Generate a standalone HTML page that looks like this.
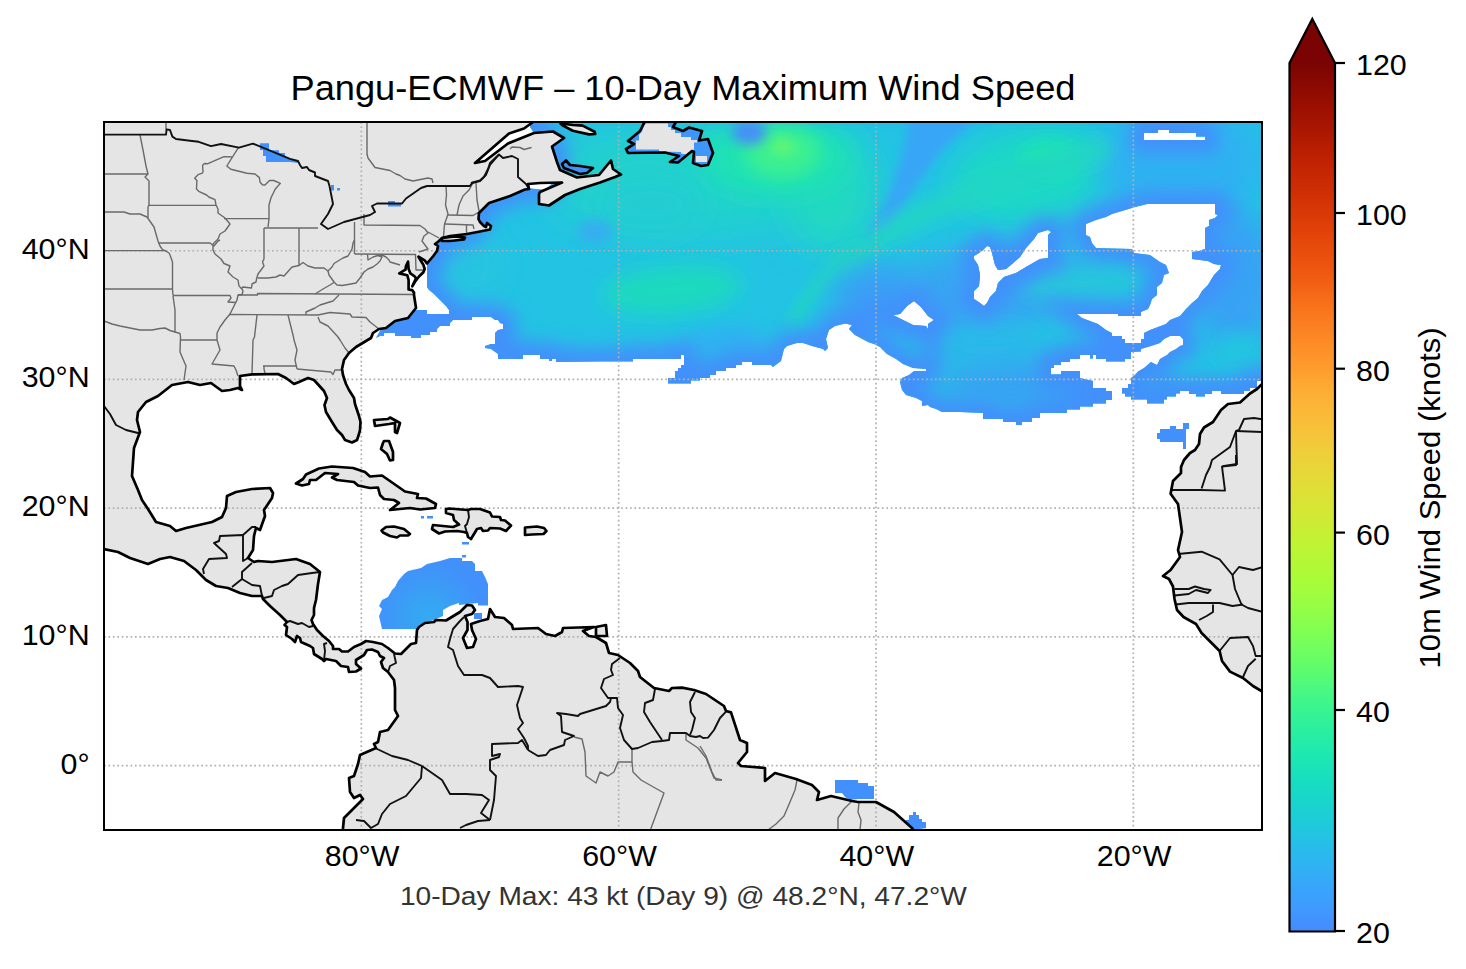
<!DOCTYPE html>
<html><head><meta charset="utf-8"><title>Pangu-ECMWF 10-Day Maximum Wind Speed</title>
<style>html,body{margin:0;padding:0;background:#fff;}svg{display:block;}
text{font-family:"Liberation Sans",sans-serif;}</style></head><body>
<svg width="1466" height="969" viewBox="0 0 1466 969">
<defs>
<clipPath id="frame"><rect x="104" y="122" width="1158" height="708"/></clipPath>

<clipPath id="windclip"><path clip-rule="evenodd" d="M530,127 L530,100 L1290,100 L1290,381 L1257,381 L1257,388 L1250,388 L1250,391 L1244,391 L1244,394 L1221,394 L1221,391 L1212,391 L1212,394 L1205,394 L1205,396.5 L1196,396.5 L1196,394 L1189,394 L1189,391 L1180,391 L1180,393.5 L1176,393.5 L1176,396.5 L1167,396.5 L1167,399.5 L1164,399.5 L1164,403.5 L1147,403.5 L1147,399.5 L1131,399.5 L1131,396.5 L1125,396.5 L1125,393.5 L1122,393.5 L1122,388 L1128,388 L1128,384 L1131,384 L1131,378 L1135,375 L1138,371.5 L1144,368 L1151,362 L1157,365 L1160,359 L1167,355 L1170,352 L1176,349 L1180,346 L1183,345 L1183,339 L1180,336 L1170,336 L1164,339 L1160,343 L1151,346 L1141,349 L1141,351.5 L1131,352 L1131,359 L1125,359 L1125,361.5 L1106,361.5 L1106,359 L1096,359 L1096,355 L1093,355 L1093,358.5 L1090,358.5 L1090,355 L1080,355 L1080,359 L1070,359 L1070,362 L1061,362 L1061,365 L1054,365 L1054,368 L1051,368 L1051,374.5 L1061,374.5 L1061,371 L1080,371 L1080,378 L1093,381 L1093,388 L1106,388 L1106,391 L1112,391 L1112,400 L1106,400 L1106,403.5 L1093,403.5 L1093,406.5 L1080,406.5 L1080,409.5 L1067,409.5 L1067,413 L1040,413 L1040,418 L1032,418 L1032,422 L1022,422 L1022,425 L1016,425 L1016,422 L1003,422 L1003,419 L983,419 L983,413 L960,412 L942,412 L936,409 L930,407 L928,405 L922,406 L922,401 L916,398 L906,395 L902,390 L900,382 L902,378 L909,375 L914,371 L926,371 L926,369 L913,368 L903,364 L896,359 L887,354 L880,347 L874,344 L868,342 L855,335 L849,329 L852,325 L845,323.6 L835,326 L829,330 L826,339 L828,348 L825,351 L823,349 L812,346 L803,343 L797,343 L787,346 L784,349 L781,361 L777,364 L773,367 L771,365 L752,365 L752,362 L742,362 L742,365 L736,365 L736,368 L726,368 L726,371 L716,371 L716,375 L710,375 L710,378 L700,378 L700,380.5 L691,380.5 L691,383.5 L668,383.5 L668,378 L675,378 L675,371 L678,371 L678,368 L681,368 L681,365 L684,365 L684,355 L681,355 L681,359 L633,359 L633,361.5 L600,361.5 L556,362 L556,359 L552,359 L552,361 L549,361 L549,359 L540,359 L540,355 L523,355 L523,359 L498,359 L498,354 L491,349 L485,348 L485,346 L491,344 L495,344 L495,333 L498,330 L503,329 L503,324 L500,323 L498,320 L495,320 L491,317 L472,317 L472,320 L453,320 L450,323 L450,326 L440,326 L437,329 L437,332 L430,332 L430,335 L421,335 L421,338 L411,338 L411,336 L395,336 L395,333 L384,333 L384,336 L380,336 L376,338 L385,322 L405,316 L412,312 L415,310 L427,310 L427,314 L449,314 L449,310 L446,306 L440,300 L434,294 L429,290 L427,287 L427,256 L436,255 L438,250 L432,246 L436,240 L470,232 L478,222 L478,212 L488,202 L526,188 L545,190 L556,180 L556,160 L552,146 L548,140 L534,133Z M1144,133 L1158,133 L1158,130 L1169,130 L1169,133 L1196,133 L1196,136.6 L1205,136.6 L1205,140 L1144,140Z M974,256 L979,253 L983,250 L987,246 L990,247 L992,253 L995,265 L998,270 L1006,269 L1012,264 L1020,257 L1026,248 L1034,239 L1038,233 L1048,230 L1051,232 L1048,235 L1048,258 L1040,259 L1026,267 L1016,273 L1004,277 L998,283 L996,291 L990,297 L987,303 L984,306 L980,303 L974,299 L974,291 L979,286 L980,275 L978,265 L974,259Z M1086,224 L1096,220 L1106,217 L1112,214 L1122,211 L1135,207 L1147,204 L1215,204 L1215,214 L1218,215 L1215,218 L1209,220 L1209,226 L1205,228 L1205,249 L1199,251 L1192,252 L1192,259 L1208,261 L1214,264 L1221,265 L1220,269 L1214,275 L1208,285 L1202,291 L1198,298 L1192,303 L1186,309 L1180,316 L1170,320 L1166,324 L1150,330 L1144,333 L1144,339 L1141,339 L1141,343 L1125,343 L1125,339 L1122,339 L1122,336 L1112,336 L1112,333 L1106,330 L1098,324 L1082,318 L1077,314 L1118,314 L1118,316 L1141,316 L1141,312 L1148,309 L1150,305 L1152,299 L1157,295 L1157,287 L1162,283 L1164,275 L1169,273 L1166,265 L1160,262 L1150,255 L1134,253 L1132,249 L1096,248 L1092,243 L1090,237 L1086,235Z M893,315 L900,314 L907,306 L914,301 L921,307 L928,316 L934,320 L928,324 L928,329 L926,326 L913,325 L905,321 L899,318Z"/></clipPath>
<filter id="b3" x="-50%" y="-50%" width="200%" height="200%"><feGaussianBlur stdDeviation="3"/></filter>
<filter id="b4" x="-50%" y="-50%" width="200%" height="200%"><feGaussianBlur stdDeviation="4"/></filter>
<filter id="b5" x="-50%" y="-50%" width="200%" height="200%"><feGaussianBlur stdDeviation="5"/></filter>
<filter id="b6" x="-50%" y="-50%" width="200%" height="200%"><feGaussianBlur stdDeviation="6"/></filter>
<filter id="b7" x="-50%" y="-50%" width="200%" height="200%"><feGaussianBlur stdDeviation="7"/></filter>
<filter id="b8" x="-50%" y="-50%" width="200%" height="200%"><feGaussianBlur stdDeviation="8"/></filter>
<filter id="b9" x="-50%" y="-50%" width="200%" height="200%"><feGaussianBlur stdDeviation="9"/></filter>
<filter id="b10" x="-50%" y="-50%" width="200%" height="200%"><feGaussianBlur stdDeviation="10"/></filter>
<filter id="b11" x="-50%" y="-50%" width="200%" height="200%"><feGaussianBlur stdDeviation="11"/></filter>
<filter id="b12" x="-50%" y="-50%" width="200%" height="200%"><feGaussianBlur stdDeviation="12"/></filter>
<filter id="b14" x="-50%" y="-50%" width="200%" height="200%"><feGaussianBlur stdDeviation="14"/></filter>
<filter id="b16" x="-50%" y="-50%" width="200%" height="200%"><feGaussianBlur stdDeviation="16"/></filter>
<filter id="b18" x="-50%" y="-50%" width="200%" height="200%"><feGaussianBlur stdDeviation="18"/></filter>
<filter id="b20" x="-50%" y="-50%" width="200%" height="200%"><feGaussianBlur stdDeviation="20"/></filter>
<filter id="blur8" x="-20%" y="-20%" width="140%" height="140%"><feGaussianBlur stdDeviation="9"/></filter>
<filter id="blur14" x="-30%" y="-30%" width="160%" height="160%"><feGaussianBlur stdDeviation="14"/></filter>
<filter id="blur20" x="-30%" y="-30%" width="160%" height="160%"><feGaussianBlur stdDeviation="20"/></filter>
<linearGradient id="cbgrad" x1="0" y1="1" x2="0" y2="0">
<stop offset="0.000" stop-color="#458afc"/>
<stop offset="0.025" stop-color="#4099ff"/>
<stop offset="0.050" stop-color="#38a5fb"/>
<stop offset="0.075" stop-color="#2fb2f4"/>
<stop offset="0.100" stop-color="#27bee9"/>
<stop offset="0.125" stop-color="#1ecbda"/>
<stop offset="0.150" stop-color="#19d5cd"/>
<stop offset="0.175" stop-color="#18dec0"/>
<stop offset="0.200" stop-color="#1de7b2"/>
<stop offset="0.225" stop-color="#27eea4"/>
<stop offset="0.250" stop-color="#35f394"/>
<stop offset="0.275" stop-color="#46f884"/>
<stop offset="0.300" stop-color="#5dfc6f"/>
<stop offset="0.325" stop-color="#71fe5f"/>
<stop offset="0.350" stop-color="#84ff51"/>
<stop offset="0.375" stop-color="#96fe44"/>
<stop offset="0.400" stop-color="#a7fc3a"/>
<stop offset="0.425" stop-color="#b4f836"/>
<stop offset="0.450" stop-color="#c1f334"/>
<stop offset="0.475" stop-color="#d0ea34"/>
<stop offset="0.500" stop-color="#dbe236"/>
<stop offset="0.525" stop-color="#e5d938"/>
<stop offset="0.550" stop-color="#eecf3a"/>
<stop offset="0.575" stop-color="#f6c33a"/>
<stop offset="0.600" stop-color="#fbb838"/>
<stop offset="0.625" stop-color="#fdac34"/>
<stop offset="0.650" stop-color="#fe9b2d"/>
<stop offset="0.675" stop-color="#fd8d27"/>
<stop offset="0.700" stop-color="#fb7e21"/>
<stop offset="0.725" stop-color="#f76f1a"/>
<stop offset="0.750" stop-color="#f15d13"/>
<stop offset="0.775" stop-color="#eb500e"/>
<stop offset="0.800" stop-color="#e4450a"/>
<stop offset="0.825" stop-color="#da3907"/>
<stop offset="0.850" stop-color="#d02f05"/>
<stop offset="0.875" stop-color="#c52603"/>
<stop offset="0.900" stop-color="#b91e02"/>
<stop offset="0.925" stop-color="#a91601"/>
<stop offset="0.950" stop-color="#9b0f01"/>
<stop offset="0.975" stop-color="#8b0902"/>
<stop offset="1.000" stop-color="#7a0403"/>
</linearGradient>
</defs>
<rect x="0" y="0" width="1466" height="969" fill="#ffffff"/>
<g clip-path="url(#frame)">
<g clip-path="url(#windclip)">
<rect x="104" y="122" width="1158" height="708" fill="#23c3e3"/>
<ellipse cx="690" cy="180" rx="150" ry="55" transform="rotate(0 690 180)" fill="#21d2cc" opacity="1" filter="url(#b20)"/>
<ellipse cx="830" cy="190" rx="45" ry="60" transform="rotate(0 830 190)" fill="#20d8c2" opacity="1" filter="url(#b16)"/>
<ellipse cx="775" cy="158" rx="75" ry="38" transform="rotate(0 775 158)" fill="#1ee2b4" opacity="1" filter="url(#b14)"/>
<ellipse cx="782" cy="152" rx="38" ry="26" transform="rotate(0 782 152)" fill="#3cf090" opacity="1" filter="url(#b9)"/>
<ellipse cx="783" cy="147" rx="12" ry="9" transform="rotate(0 783 147)" fill="#5af47a" opacity="1" filter="url(#b4)"/>
<ellipse cx="749" cy="132" rx="17" ry="13" transform="rotate(0 749 132)" fill="#4690f8" opacity="1" filter="url(#b6)"/>
<ellipse cx="1030" cy="175" rx="80" ry="45" transform="rotate(-10 1030 175)" fill="#1cd8c6" opacity="1" filter="url(#b14)"/>
<ellipse cx="1050" cy="158" rx="30" ry="18" transform="rotate(0 1050 158)" fill="#1ee3b2" opacity="1" filter="url(#b8)"/>
<ellipse cx="1180" cy="162" rx="85" ry="55" transform="rotate(0 1180 162)" fill="#2db2f1" opacity="1" filter="url(#b14)"/>
<ellipse cx="1235" cy="280" rx="40" ry="70" transform="rotate(0 1235 280)" fill="#38a2f4" opacity="1" filter="url(#b14)"/>
<path d="M912,110 L985,110 L942,150 L913,190 L893,225 L873,246 L864,238 L880,212 L893,185 L903,150Z" fill="#38a6f6" opacity="1" filter="url(#b5)"/>
<path d="M1100,150 L992,185 L920,215 L876,240 L845,262" fill="none" stroke="#20d6c4" stroke-width="22" stroke-linecap="round" stroke-linejoin="round" opacity="1" filter="url(#b9)"/>
<path d="M860,250 L830,270 L812,292 L795,318" fill="none" stroke="#22d2c8" stroke-width="14" stroke-linecap="round" stroke-linejoin="round" opacity="1" filter="url(#b6)"/>
<ellipse cx="985" cy="290" rx="105" ry="40" transform="rotate(-8 985 290)" fill="#37a4f3" opacity="1" filter="url(#b14)"/>
<ellipse cx="1080" cy="283" rx="60" ry="16" transform="rotate(-5 1080 283)" fill="#26c6dc" opacity="1" filter="url(#b9)"/>
<ellipse cx="985" cy="350" rx="60" ry="22" transform="rotate(0 985 350)" fill="#2ab8ea" opacity="1" filter="url(#b12)"/>
<ellipse cx="1030" cy="385" rx="90" ry="22" transform="rotate(0 1030 385)" fill="#38a2f4" opacity="1" filter="url(#b12)"/>
<ellipse cx="875" cy="300" rx="40" ry="35" transform="rotate(0 875 300)" fill="#3a9ef6" opacity="1" filter="url(#b14)"/>
<ellipse cx="1238" cy="352" rx="22" ry="20" transform="rotate(0 1238 352)" fill="#22c4e1" opacity="1" filter="url(#b8)"/>
<ellipse cx="728" cy="342" rx="42" ry="16" transform="rotate(0 728 342)" fill="#2eb2f2" opacity="1" filter="url(#b9)"/>
<ellipse cx="672" cy="290" rx="70" ry="24" transform="rotate(-5 672 290)" fill="#1fd9bf" opacity="1" filter="url(#b10)"/>
<ellipse cx="650" cy="205" rx="55" ry="30" transform="rotate(0 650 205)" fill="#23cdd2" opacity="1" filter="url(#b14)"/>
<ellipse cx="595" cy="232" rx="18" ry="12" transform="rotate(0 595 232)" fill="#34aef0" opacity="1" filter="url(#b6)"/>
<ellipse cx="470" cy="265" rx="35" ry="40" transform="rotate(0 470 265)" fill="#25c4e0" opacity="1" filter="url(#b12)"/>
<path d="M530,127 L530,100 L1290,100 L1290,381 L1257,381 L1257,388 L1250,388 L1250,391 L1244,391 L1244,394 L1221,394 L1221,391 L1212,391 L1212,394 L1205,394 L1205,396.5 L1196,396.5 L1196,394 L1189,394 L1189,391 L1180,391 L1180,393.5 L1176,393.5 L1176,396.5 L1167,396.5 L1167,399.5 L1164,399.5 L1164,403.5 L1147,403.5 L1147,399.5 L1131,399.5 L1131,396.5 L1125,396.5 L1125,393.5 L1122,393.5 L1122,388 L1128,388 L1128,384 L1131,384 L1131,378 L1135,375 L1138,371.5 L1144,368 L1151,362 L1157,365 L1160,359 L1167,355 L1170,352 L1176,349 L1180,346 L1183,345 L1183,339 L1180,336 L1170,336 L1164,339 L1160,343 L1151,346 L1141,349 L1141,351.5 L1131,352 L1131,359 L1125,359 L1125,361.5 L1106,361.5 L1106,359 L1096,359 L1096,355 L1093,355 L1093,358.5 L1090,358.5 L1090,355 L1080,355 L1080,359 L1070,359 L1070,362 L1061,362 L1061,365 L1054,365 L1054,368 L1051,368 L1051,374.5 L1061,374.5 L1061,371 L1080,371 L1080,378 L1093,381 L1093,388 L1106,388 L1106,391 L1112,391 L1112,400 L1106,400 L1106,403.5 L1093,403.5 L1093,406.5 L1080,406.5 L1080,409.5 L1067,409.5 L1067,413 L1040,413 L1040,418 L1032,418 L1032,422 L1022,422 L1022,425 L1016,425 L1016,422 L1003,422 L1003,419 L983,419 L983,413 L960,412 L942,412 L936,409 L930,407 L928,405 L922,406 L922,401 L916,398 L906,395 L902,390 L900,382 L902,378 L909,375 L914,371 L926,371 L926,369 L913,368 L903,364 L896,359 L887,354 L880,347 L874,344 L868,342 L855,335 L849,329 L852,325 L845,323.6 L835,326 L829,330 L826,339 L828,348 L825,351 L823,349 L812,346 L803,343 L797,343 L787,346 L784,349 L781,361 L777,364 L773,367 L771,365 L752,365 L752,362 L742,362 L742,365 L736,365 L736,368 L726,368 L726,371 L716,371 L716,375 L710,375 L710,378 L700,378 L700,380.5 L691,380.5 L691,383.5 L668,383.5 L668,378 L675,378 L675,371 L678,371 L678,368 L681,368 L681,365 L684,365 L684,355 L681,355 L681,359 L633,359 L633,361.5 L600,361.5 L556,362 L556,359 L552,359 L552,361 L549,361 L549,359 L540,359 L540,355 L523,355 L523,359 L498,359 L498,354 L491,349 L485,348 L485,346 L491,344 L495,344 L495,333 L498,330 L503,329 L503,324 L500,323 L498,320 L495,320 L491,317 L472,317 L472,320 L453,320 L450,323 L450,326 L440,326 L437,329 L437,332 L430,332 L430,335 L421,335 L421,338 L411,338 L411,336 L395,336 L395,333 L384,333 L384,336 L380,336 L376,338 L385,322 L405,316 L412,312 L415,310 L427,310 L427,314 L449,314 L449,310 L446,306 L440,300 L434,294 L429,290 L427,287 L427,256 L436,255 L438,250 L432,246 L436,240 L470,232 L478,222 L478,212 L488,202 L526,188 L545,190 L556,180 L556,160 L552,146 L548,140 L534,133Z M1144,133 L1158,133 L1158,130 L1169,130 L1169,133 L1196,133 L1196,136.6 L1205,136.6 L1205,140 L1144,140Z M974,256 L979,253 L983,250 L987,246 L990,247 L992,253 L995,265 L998,270 L1006,269 L1012,264 L1020,257 L1026,248 L1034,239 L1038,233 L1048,230 L1051,232 L1048,235 L1048,258 L1040,259 L1026,267 L1016,273 L1004,277 L998,283 L996,291 L990,297 L987,303 L984,306 L980,303 L974,299 L974,291 L979,286 L980,275 L978,265 L974,259Z M1086,224 L1096,220 L1106,217 L1112,214 L1122,211 L1135,207 L1147,204 L1215,204 L1215,214 L1218,215 L1215,218 L1209,220 L1209,226 L1205,228 L1205,249 L1199,251 L1192,252 L1192,259 L1208,261 L1214,264 L1221,265 L1220,269 L1214,275 L1208,285 L1202,291 L1198,298 L1192,303 L1186,309 L1180,316 L1170,320 L1166,324 L1150,330 L1144,333 L1144,339 L1141,339 L1141,343 L1125,343 L1125,339 L1122,339 L1122,336 L1112,336 L1112,333 L1106,330 L1098,324 L1082,318 L1077,314 L1118,314 L1118,316 L1141,316 L1141,312 L1148,309 L1150,305 L1152,299 L1157,295 L1157,287 L1162,283 L1164,275 L1169,273 L1166,265 L1160,262 L1150,255 L1134,253 L1132,249 L1096,248 L1092,243 L1090,237 L1086,235Z M893,315 L900,314 L907,306 L914,301 L921,307 L928,316 L934,320 L928,324 L928,329 L926,326 L913,325 L905,321 L899,318Z" fill="none" stroke="#4290fb" stroke-width="26" filter="url(#blur8)"/>
</g>
<radialGradient id="carib" gradientUnits="userSpaceOnUse" cx="428" cy="616" r="55"><stop offset="0" stop-color="#33abf1"/><stop offset="1" stop-color="#4290fb"/></radialGradient>
<path d="M408,571 L404,574 L401,577.5 L398,581 L395,587 L392,590 L388,597 L382,600 L379,606 L382,609 L379,616 L382,629 L417,629 L417,627 L426,622 L435,620 L436,619 L443,616 L443,610 L450,606 L459,603 L459,605 L478,603 L478,605.5 L488,605.5 L488,584 L485,577 L482,571 L475,571 L475,564 L472,561 L462,561 L462,558 L450,558 L440,561 L427,564 L421,568Z" fill="url(#carib)"/>
<path d="M474,613 L482,613 L482,619 L474,619Z" fill="#4290fb"/>
<path d="M462,555 L466,555 L466,557.5 L462,557.5Z" fill="#4290fb"/>
<path d="M462,542 L469,542 L469,544.5 L462,544.5Z" fill="#4290fb"/>
<path d="M421,516 L424,516 L424,518.5 L421,518.5Z" fill="#4290fb"/>
<path d="M427,516 L433,516 L433,518.5 L427,518.5Z" fill="#4290fb"/>
<path d="M1157,433 L1160,433 L1160,429 L1170,429 L1170,426 L1176,426 L1176,429 L1183,429 L1183,423 L1189,423 L1189,429 L1186,429 L1186,449 L1183,449 L1183,442 L1160,442 L1160,439 L1157,439Z" fill="#4290fb"/>
<path d="M835,780 L858,780 L858,783 L868,783 L868,786 L874,786 L874,799 L858,799 L850,800 L845,797 L842,793 L835,793Z" fill="#4290fb"/>
<path d="M906,820 L909,820 L909,815 L913,815 L913,812 L916,812 L916,815 L919,815 L919,819 L922,819 L922,822 L926,822 L926,828 L920,829 L914,829 L910,827 L906,824Z" fill="#4290fb"/>
<g fill="#e5e5e5" stroke="none">
<path d="M104,122 L533,122 L531,123.5 L524,128.5 L509,133.5 L475,163 L485,161 L508,143.5 L534,133 L553,131.5 L564,138 L552,146.5 L557,162 L560,170 L577,177.5 L599,175 L611,160.5 L613,169 L621,174.5 L615,177 L600,182.5 L580,189 L565,195 L549,205.5 L539,204 L539,194 L540,192 L562,182.5 L540,183 L528,184 L529,189 L525,189.5 L510,196 L489,203 L484,208 L479,213 L478.5,219 L480,222 L484,226 L486,227 L487,223 L491,226 L490,229.5 L480,231.5 L467,234 L450,236 L442,238 L439,241 L435,244 L438,246 L437,251 L433.3,256 L427,263.5 L424.7,260.4 L418.5,256.7 L421,261 L423.4,264.8 L424.7,269 L423.4,272.2 L419,276.5 L414.8,282 L412.3,286.4 L416,278.4 L414.8,276.5 L410.4,273.4 L408.6,269 L408,261.7 L406,266 L405.5,269.7 L399.3,273.4 L407.3,275.3 L408.6,280 L408.6,289.5 L412.3,290.2 L414,292.6 L414,295 L416,308 L408,318 L395,321 L386,328 L379,329 L373,333 L371,338 L356,347 L349,353 L344,360 L342,369 L343,375 L346,384 L349,390 L354,398 L355,404 L359,416 L360.5,422 L360,430 L359,434 L357,440 L352,442.5 L345,440 L342,435 L337,430 L332,422 L326,412 L324.5,405 L327,398 L324,391 L314,380 L308,378 L299,382 L294,384 L286,378 L278,374 L252,374.4 L240,376 L240,386 L242,390 L238,388 L230,390 L222,391 L211,383 L200,385 L188,382 L172,385 L158,396 L146,402 L138,412 L137,420 L140,432 L134,448 L132,476 L138,490 L142,500 L148,509 L156,522 L170,526 L176,531 L186,528 L212,522 L222,517 L226,508 L227,496 L236,492 L252,489 L270,488 L273,493 L272,498 L264,510 L265,516 L260,530 L256,528 L254,536 L253,550 L248,558 L254,562 L258,561 L272,562 L296,559 L310,564 L320,572 L318,584 L316,600 L314,608 L314,615 L311.5,620 L313,624 L317,630 L323,636 L329,641 L333,646 L333,649 L339,649 L342,651.5 L348,651.5 L354,647 L361,644 L366,641 L373,642 L382,644 L388,648 L395,653.5 L401,654 L411,644 L416,643 L417,630 L419,627 L425,623 L434,622 L436,620 L446,620.5 L460,612 L467,605 L472,605.5 L475,610 L472,614 L465,616 L467.5,622 L467.5,630 L463,638 L467,648 L473,647 L476,639 L472,630 L471,624 L480,621 L488,619 L490,609 L495,617 L504,618 L512,625 L513,629 L538,628 L546,634 L555,636 L562,632 L563,628 L594,627 L583,631 L589,636 L596,637 L606,643 L609,653 L618,655 L630,663 L638,671 L640,677 L654,688 L669,691 L672,688 L682,687.6 L694,690 L706,694 L724,706 L726,711 L731,712.4 L740,740 L747,743 L747,752 L738,763 L741,766 L765,768 L765,781 L775,773 L796,779 L812,785 L819,792 L817,800 L831,796 L852,801 L858,802 L876,802 L894,812 L912,828 L914,831 L343,831 L343,828 L344,818 L352,810 L363,799 L360,795 L354,798 L350,792 L349,778 L354,776 L358,764 L360,755 L376,748 L374,744 L378,742 L380,732 L388,730 L398,716 L395,710 L395,697 L395,688 L394,680 L388,672 L383,668 L381,662 L384,658 L380,656 L378,652 L372,649.5 L367,650 L364,655 L356,660 L356,664 L361,668.5 L356,671.5 L349,672 L348,667 L341,666 L336,661 L326,659 L324,661 L322,659 L314,654 L313,648 L310,646 L301,642 L300,638 L297,636 L295,642 L292,639 L286,635 L287,627 L284.5,625 L287,622 L280,615 L270,606 L263,599 L262,596 L252,596 L240,593 L228,588 L216,586 L206,580 L196,570 L184,561 L170,557 L160,559 L148,564 L130,558 L118,552 L104,549Z"/>
<path d="M644,122 L644,123 L640,131 L628,141 L634,144 L626,149 L628,153 L665,152.5 L679,156 L670,162 L678,162.5 L692,151 L694,152 L693,163 L701,166 L708,165 L713,153 L708,139 L699,140.5 L702,131 L689,127.5 L683,131 L673,127 L676,122Z"/>
<path d="M560.5,123.5 L573,125 L582.6,125.6 L594.6,131.7 L595.2,134 L589,134.4 L572.8,130.8 L563,125.6Z"/>
<path d="M566,160.5 L562,164 L564,168 L580,174 L587,173 L593,168 L580,166 L570,165Z"/>
<path d="M442,238 L455,236.5 L465,237.5 L464,239.5 L450,241 L442,241Z"/>
<path d="M296,483.5 L303,479 L306,474.5 L319,468.5 L332,466.5 L353,468 L365,472 L370,476.5 L382,475.5 L405,491.5 L418,494 L417,498 L426,498.5 L436,504 L435,508 L420,509.5 L410,508 L390,510 L399,503 L394,500 L384,499 L380,495 L378,487.5 L370,488 L358,485.5 L354,482 L337,480 L332,477.5 L338,474 L325,473 L316,480 L310,480 L309,484 L302,485.5Z"/>
<path d="M446,509 L449,508.5 L468,510 L471,509 L480,509 L490,512.5 L492,516.5 L500,517 L501,520 L505,520.5 L511,525.5 L506,531 L500,528.5 L490,528 L488,530.5 L483,531 L481,528 L477,529 L471,539 L468,537 L467,533 L464,532 L457,531 L445,531.5 L439,533.5 L432,529 L433,525 L453,527 L459,524.5 L454,520 L453,515 L446,513Z"/>
<path d="M381.5,530.5 L386,527 L394,526.5 L404,529 L410,534 L408,535.5 L400,535.5 L397,537.5 L390,536 L383,532.5Z"/>
<path d="M525,527.5 L537,526.5 L544,528 L546.5,531 L543.5,534 L532,534.5 L525,535Z"/>
<path d="M384,441 L389,441 L393,452 L393,460 L390,460.5 L387,454 L381,449 L383,443Z"/>
<path d="M374,420 L388,419 L390,417.5 L400,423 L397,433 L395,432 L395,423 L389,424 L375,426Z"/>
<path d="M596,627 L606,625 L607,636 L596,636Z"/>
<path d="M1263,384 L1261,385 L1257,389 L1250,393.5 L1240,402.5 L1228,404 L1221,410 L1213,422 L1204,427.5 L1200,434 L1199,444 L1195,450 L1190,453 L1184,460 L1181,467 L1181,473 L1173,481 L1170.6,493.7 L1178,504 L1182,532 L1178,550 L1180,557 L1170.6,570 L1163,576 L1169,579 L1173,586.5 L1174.5,599 L1177,610 L1183.5,617 L1196,624 L1201.6,633 L1219.6,651 L1222,661 L1230,671.6 L1243,678 L1253,686 L1263,692Z"/>
</g>
<path d="M260,143.3 L269,143.3 L269,150.2 L279,150.2 L279,153 L285,153 L285,156 L290,158.6 L298,161 L298,163 L290,162 L266,162 L266,156 L263,156 L263,150 L260,150Z" fill="#4290fb"/>
<path d="M331,185 L334,185 L334,190.5 L331,190.5Z" fill="#4290fb"/>
<path d="M337,188 L340,188 L340,190.5 L337,190.5Z" fill="#4290fb"/>
<path d="M388,201 L395,201 L395,203.5 L401,203.5 L401,206.5 L388,206.5Z" fill="#4290fb"/>
<path d="M566,161 L563,164 L565,167.5 L580,173.5 L587,172.5 L592,168 L580,166.5 L570,165.5Z" fill="#4290fb"/>
<path d="M644,122 L644,123 L640,131 L628,141 L634,144 L626,149 L628,153 L665,152.5 L679,156 L670,162 L678,162.5 L692,151 L694,152 L693,163 L701,166 L708,165 L713,153 L708,139 L699,140.5 L702,131 L689,127.5 L683,131 L673,127 L676,122Z" fill="#3f96fa"/>
<path d="M646,123.5 L658,123.5 L668,123.5 L668,127 L671,127 L671,130 L675,130 L675,133 L681,133 L681,137 L691,137 L691,140 L697,140 L697,142.5 L694,142.5 L694,149.4 L691,151 L689.6,155 L681,153.5 L681,152 L659,151.4 L659,149.4 L636,149.4 L636,140.5 L639,140.5 L639,135 L642,131.6 L644,126Z" fill="#e5e5e5"/>
<path d="M696,156 L707,156 L707,162 L696,162Z" fill="#e5e5e5"/>
<g stroke="#b0b0b0" stroke-width="1.7" stroke-dasharray="1.7 2.72" fill="none">
<line x1="361.33" y1="122" x2="361.33" y2="830"/>
<line x1="618.67" y1="122" x2="618.67" y2="830"/>
<line x1="876.00" y1="122" x2="876.00" y2="830"/>
<line x1="1133.33" y1="122" x2="1133.33" y2="830"/>
<line x1="104" y1="765.64" x2="1262" y2="765.64"/>
<line x1="104" y1="636.91" x2="1262" y2="636.91"/>
<line x1="104" y1="508.18" x2="1262" y2="508.18"/>
<line x1="104" y1="379.45" x2="1262" y2="379.45"/>
<line x1="104" y1="250.73" x2="1262" y2="250.73"/>
</g>
<g stroke="#6a6a6a" stroke-width="1.4" fill="none" stroke-linejoin="round">
<path d="M166,121 L166,129.4"/>
<path d="M367,121 L367,154 L368,158 L375,167.5 L390,170.5 L396,174 L400,175.5 L405,179 L413,181 L428,178 L432,179 L433,183"/>
<path d="M104,174 L148,174"/>
<path d="M140,135 L143,150 L146,166 L148,174 L145,177 L149,181 L149,205 L148,207 L148,218"/>
<path d="M148,205.4 L216,205.4"/>
<path d="M104,212 L124,212 L130,214 L140,214 L147,217 L154,227 L158,241 L160,246 L162,249 L169,253 L170,255 L172.5,262 L172.5,289 L173,295.5"/>
<path d="M104,250.6 L166,250.6"/>
<path d="M158,243 L210,243 L214,246 L218,241 L220,240"/>
<path d="M104,289 L172.5,289"/>
<path d="M173,295.5 L230,295.5 L231,298 L228,302 L236,302.5"/>
<path d="M173,296 L175,310 L175,332 L180,333.5 L180.5,337 L180,352 L186,366 L184,380"/>
<path d="M104,321 L112,324 L120,326 L130,328 L140,330 L152,330 L160,328.5 L165,328 L170,330.5 L175,332"/>
<path d="M180,340 L217,340"/>
<path d="M216,205 L218,209 L218,213 L225,218 L230,224 L225,231 L220,234 L218,239 L213,244 L213,250 L215,254 L221,259 L224,263.5 L230,266 L228,272 L233,277 L238,280 L239,286 L242,289 L243,291 L242,294.5 L238,295 L237,300 L234,306 L230,314 L225,320 L220,327 L217,333 L217,340 L220,350 L212,364 L234,366 L236,370 L238,376"/>
<path d="M232,157 L224,156.6 L207.3,163.8 L204.5,163.5 L202.6,165.3 L203,171.8 L202.3,173.2 L198,174.7 L194.7,178.3 L196.9,180.5 L196.5,189 L198.7,191.3 L206.6,195 L208.8,197 L215,199.6 L216,205"/>
<path d="M238.4,147.6 L226.8,166 L230.8,169.3 L247,173.2 L255,174 L259.4,177.6 L260,182 L262.3,184.8 L265,185 L269.5,180.5 L273.8,180.5 L280.3,183.4 L275.3,189 L271,197.8 L269,205 L269,219 L268,227"/>
<path d="M224,218.6 L269,218.6"/>
<path d="M264,228 L264,259 L262.5,262 L264,266 L258,274 L256.5,279 L256,282 L252,284 L251.5,288 L243,287 L241,289"/>
<path d="M264,228 L318,228"/>
<path d="M299,228 L299,265.5"/>
<path d="M257.5,278 L268,278 L276,277 L280,275 L284,276 L292,267 L299,265.5 L303,262.5 L308,266 L315,268 L324,268 L328,271 L332,267 L334,263.5 L338,261 L343,258 L348,256 L352,249 L353,243 L354.5,240"/>
<path d="M354.5,222 L354.5,254"/>
<path d="M364,214 L364,225 L420,225.5"/>
<path d="M420,225.5 L425,229 L428,233 L424,236 L422,241 L425,245 L428,249 L419,252"/>
<path d="M428,232 L439,238"/>
<path d="M354.5,254 L416,254.5"/>
<path d="M415.5,254.5 L416,270 L424,270"/>
<path d="M328,271 L329,275 L334,282 L337,285 L342,285.5 L348,284.5 L356,283 L360,278 L364,272 L368,269 L373,267 L377,264 L380,261 L382,257 L378,255.5 L373,257 L368,260 L367.5,254"/>
<path d="M377,255 L383,255.5 L386,257 L389,260 L390,262 L400,265"/>
<path d="M334,282.5 L330,285 L323,289 L315,294"/>
<path d="M238,295 L257.5,295 L257.5,293.5 L413,294.5"/>
<path d="M339,295 L333,301 L320,305 L315,308 L306,312 L306,315"/>
<path d="M229,314.5 L318,315"/>
<path d="M318,315 L330,312.5 L350,314 L352,317 L366,317.5 L370,322 L379,329"/>
<path d="M318,317 L320,322 L328,326 L338,337 L340,340 L345,348 L349,353"/>
<path d="M257,315 L254.5,337 L253,340 L252,374"/>
<path d="M288,315 L293.5,337 L294,340 L297,350 L295,360 L297,369"/>
<path d="M263,366 L297,366"/>
<path d="M264,366 L264,369 L265,373"/>
<path d="M297,369 L331,372 L333,374.5 L335,370 L341,370"/>
<path d="M446,186 L446.5,195 L445.5,205 L448,214 L446,220 L444.5,224 L443.5,237"/>
<path d="M473,183 L469,190 L463,196 L459,205 L457,215"/>
<path d="M476,183 L477,200 L479,211"/>
<path d="M448,215 L473,215.5 L479,212"/>
<path d="M445,224 L473,225 L474,229"/>
<path d="M466.5,225 L466.5,233"/>
<path d="M510,149 L512,147 L520,147.5 L524,149.5 L531.5,147.5"/>
<path d="M574,737 L582,739 L585,752 L586,776 L596,783 L600,772 L608,776 L614,772 L618,762 L632,762 L632,749"/>
<path d="M632,762 L633,772 L641,780 L664,793 L650,831"/>
<path d="M686,733 L686,740 L698,748 L706,758 L714,778 L722,780"/>
<path d="M700,746 L706,756 L712,772 L716,780 L722,780"/>
<path d="M797,780 L795,790 L790,802 L784,816 L776,824 L768,830"/>
<path d="M852,801 L844,809 L838,818 L838,830"/>
<path d="M859,803 L858,812 L861,820 L860,830"/>
</g>
<g stroke="#111" stroke-width="1.9" fill="none" stroke-linejoin="round">
<path d="M104,134.6 L166,134.6 L166.6,129.4 L170,130 L172.4,136.6 L176,139 L190,140.7 L198.7,141.8 L211,146.1 L221,144 L239,147.6 L252.9,143.6 L290,158.8 L298,161 L300,165 L302,168 L307,167 L309,170 L315,172.5 L315,176 L328,181 L329.5,186 L333,204 L328,214 L321,224 L328,229 L344,222 L370,215 L375,212 L372,206 L377,203.5 L402,203.5 L406,198.5 L421,188 L427,186 L470,186 L472,183 L480,181 L484,177 L488,169 L490,163 L499,154.5 L503,158 L512,156 L518,159 L518,177 L526,184 L529,189"/>
<path d="M499,154.5 L490,165 L486,175 L480,180.5 L471,183"/>
<path d="M104,406 L110,414 L116,425 L126,430 L138,433 L140,432"/>
<path d="M204,574 L203,569 L209,559 L227,558 L226,554 L214,543 L219,541 L220,536 L243,535 L243,561 L248,558"/>
<path d="M243,535 L252,527 L256,527"/>
<path d="M252,563 L242,572 L242,579 L232,587"/>
<path d="M242,579 L252,585 L260,586 L262,596"/>
<path d="M264,598 L272,596 L274,590 L282,586 L288,584 L298,575 L312,573 L320,572"/>
<path d="M287,622 L290,621 L298,624 L302,623 L309,627 L313,626"/>
<path d="M327,643 L324,644 L325,651 L324,660"/>
<path d="M394,654 L396,663 L390,666 L388,672"/>
<path d="M468,510 L469,517 L467,524 L465,526 L467,533"/>
<path d="M464,617 L460,621 L453,629 L450,639 L448,647 L453,650 L458,666 L464,675 L482,675 L490,678 L498,687 L518,686 L523,687 L517,705 L520,718 L523,723 L518,729 L524,738 L528,746 L528,750"/>
<path d="M528,750 L522,740 L518,743 L492,744 L492,756 L500,754 L499,757 L490,760 L490,770 L496,776 L494,800 L490,820"/>
<path d="M528,750 L538,756 L546,755 L550,750 L564,745 L565,740 L574,736 L562,732 L561,716 L557,713 L566,714 L578,716 L580,714 L606,706 L610,702 L611,698"/>
<path d="M620,658 L612,664 L611,670 L613,675 L604,679 L601,688 L608,698 L611,698 L617,698 L618,708 L623,715 L620,728 L624,740 L632,749 L638,748 L652,742 L662,741"/>
<path d="M655,689 L653,700 L645,703 L644,712 L650,722 L654,728 L662,740"/>
<path d="M695,692 L690,702 L691,712 L695,718 L692,730 L690,735"/>
<path d="M662,741 L669,740 L670,733 L686,733 L690,736 L696,737 L700,736 L703,738 L708,737.6 L714,730 L720,718 L726,711.6"/>
<path d="M375,748 L392,756 L408,760 L422,766"/>
<path d="M422,766 L421,778 L406,796 L390,804 L382,814 L378,824 L371,828 L364,821 L356,820"/>
<path d="M422,766 L442,780 L450,794 L466,794 L482,795 L489,800 L481,813 L490,820"/>
<path d="M490,820 L478,821 L466,825 L460,828"/>
<path d="M1263,419.5 L1254,418 L1244,419 L1239,430 L1236,431 L1230,447 L1212,460 L1210,467 L1206,475 L1201.6,488.5"/>
<path d="M1236,431 L1263,432"/>
<path d="M1236,432 L1237,464 L1224,466 L1222,466.6 L1225,490.6 L1200,490 L1172,490"/>
<path d="M1236,455 L1236,465 L1222,466.6"/>
<path d="M1178,554 L1201.6,551.7 L1219.6,559.4 L1232.5,575 L1239,567 L1253,570 L1263,567"/>
<path d="M1232.5,575 L1235,589 L1241.5,604.5 L1248,608 L1263,612"/>
<path d="M1174.5,589 L1188.7,589 L1195,586.5 L1204,589 L1210.6,590 L1208,593 L1196,590 L1188.7,594 L1174.5,595.5"/>
<path d="M1175.8,604.5 L1188.7,603 L1219.6,603 L1232.5,606 L1243,604.5"/>
<path d="M1213,604.5 L1213,612 L1206.7,616 L1199,620"/>
<path d="M1219.6,651 L1230,638 L1248,637 L1253,646 L1255.7,656 L1263,656"/>
<path d="M1243,677 L1248,666 L1255.7,658.7"/>
</g>
<g stroke="#000" stroke-width="2.7" fill="none" stroke-linejoin="round" stroke-linecap="round">
<path d="M533,122 L531,123.5 L524,128.5 L509,133.5 L475,163 L485,161 L508,143.5 L534,133 L553,131.5 L564,138 L552,146.5 L557,162 L560,170 L577,177.5 L599,175 L611,160.5 L613,169 L621,174.5 L615,177 L600,182.5 L580,189 L565,195 L549,205.5 L539,204 L539,194 L540,192 L562,182.5 L540,183 L528,184 L529,189 L525,189.5 L510,196 L489,203 L484,208 L479,213 L478.5,219 L480,222 L484,226 L486,227 L487,223 L491,226 L490,229.5 L480,231.5 L467,234 L450,236 L442,238 L439,241 L435,244 L438,246 L437,251 L433.3,256 L427,263.5 L424.7,260.4 L418.5,256.7 L421,261 L423.4,264.8 L424.7,269 L423.4,272.2 L419,276.5 L414.8,282 L412.3,286.4 L416,278.4 L414.8,276.5 L410.4,273.4 L408.6,269 L408,261.7 L406,266 L405.5,269.7 L399.3,273.4 L407.3,275.3 L408.6,280 L408.6,289.5 L412.3,290.2 L414,292.6 L414,295 L416,308 L408,318 L395,321 L386,328 L379,329 L373,333 L371,338 L356,347 L349,353 L344,360 L342,369 L343,375 L346,384 L349,390 L354,398 L355,404 L359,416 L360.5,422 L360,430 L359,434 L357,440 L352,442.5 L345,440 L342,435 L337,430 L332,422 L326,412 L324.5,405 L327,398 L324,391 L314,380 L308,378 L299,382 L294,384 L286,378 L278,374 L252,374.4 L240,376 L240,386 L242,390 L238,388 L230,390 L222,391 L211,383 L200,385 L188,382 L172,385 L158,396 L146,402 L138,412 L137,420 L140,432 L134,448 L132,476 L138,490 L142,500 L148,509 L156,522 L170,526 L176,531 L186,528 L212,522 L222,517 L226,508 L227,496 L236,492 L252,489 L270,488 L273,493 L272,498 L264,510 L265,516 L260,530 L256,528 L254,536 L253,550 L248,558 L254,562 L258,561 L272,562 L296,559 L310,564 L320,572 L318,584 L316,600 L314,608 L314,615 L311.5,620 L313,624 L317,630 L323,636 L329,641 L333,646 L333,649 L339,649 L342,651.5 L348,651.5 L354,647 L361,644 L366,641 L373,642 L382,644 L388,648 L395,653.5 L401,654 L411,644 L416,643 L417,630 L419,627 L425,623 L434,622 L436,620 L446,620.5 L460,612 L467,605 L472,605.5 L475,610 L472,614 L465,616 L467.5,622 L467.5,630 L463,638 L467,648 L473,647 L476,639 L472,630 L471,624 L480,621 L488,619 L490,609 L495,617 L504,618 L512,625 L513,629 L538,628 L546,634 L555,636 L562,632 L563,628 L594,627 L583,631 L589,636 L596,637 L606,643 L609,653 L618,655 L630,663 L638,671 L640,677 L654,688 L669,691 L672,688 L682,687.6 L694,690 L706,694 L724,706 L726,711 L731,712.4 L740,740 L747,743 L747,752 L738,763 L741,766 L765,768 L765,781 L775,773 L796,779 L812,785 L819,792 L817,800 L831,796 L852,801 L858,802 L876,802 L894,812 L912,828 L914,831 M343,831 L343,828 L344,818 L352,810 L363,799 L360,795 L354,798 L350,792 L349,778 L354,776 L358,764 L360,755 L376,748 L374,744 L378,742 L380,732 L388,730 L398,716 L395,710 L395,697 L395,688 L394,680 L388,672 L383,668 L381,662 L384,658 L380,656 L378,652 L372,649.5 L367,650 L364,655 L356,660 L356,664 L361,668.5 L356,671.5 L349,672 L348,667 L341,666 L336,661 L326,659 L324,661 L322,659 L314,654 L313,648 L310,646 L301,642 L300,638 L297,636 L295,642 L292,639 L286,635 L287,627 L284.5,625 L287,622 L280,615 L270,606 L263,599 L262,596 L252,596 L240,593 L228,588 L216,586 L206,580 L196,570 L184,561 L170,557 L160,559 L148,564 L130,558 L118,552 L104,549"/>
<path d="M644,122 L644,123 L640,131 L628,141 L634,144 L626,149 L628,153 L665,152.5 L679,156 L670,162 L678,162.5 L692,151 L694,152 L693,163 L701,166 L708,165 L713,153 L708,139 L699,140.5 L702,131 L689,127.5 L683,131 L673,127 L676,122"/>
<path d="M560.5,123.5 L573,125 L582.6,125.6 L594.6,131.7 L595.2,134 L589,134.4 L572.8,130.8 L563,125.6Z"/>
<path d="M566,160.5 L562,164 L564,168 L580,174 L587,173 L593,168 L580,166 L570,165Z"/>
<path d="M442,238 L455,236.5 L465,237.5 L464,239.5 L450,241 L442,241Z"/>
<path d="M296,483.5 L303,479 L306,474.5 L319,468.5 L332,466.5 L353,468 L365,472 L370,476.5 L382,475.5 L405,491.5 L418,494 L417,498 L426,498.5 L436,504 L435,508 L420,509.5 L410,508 L390,510 L399,503 L394,500 L384,499 L380,495 L378,487.5 L370,488 L358,485.5 L354,482 L337,480 L332,477.5 L338,474 L325,473 L316,480 L310,480 L309,484 L302,485.5Z"/>
<path d="M446,509 L449,508.5 L468,510 L471,509 L480,509 L490,512.5 L492,516.5 L500,517 L501,520 L505,520.5 L511,525.5 L506,531 L500,528.5 L490,528 L488,530.5 L483,531 L481,528 L477,529 L471,539 L468,537 L467,533 L464,532 L457,531 L445,531.5 L439,533.5 L432,529 L433,525 L453,527 L459,524.5 L454,520 L453,515 L446,513Z"/>
<path d="M381.5,530.5 L386,527 L394,526.5 L404,529 L410,534 L408,535.5 L400,535.5 L397,537.5 L390,536 L383,532.5Z"/>
<path d="M525,527.5 L537,526.5 L544,528 L546.5,531 L543.5,534 L532,534.5 L525,535Z"/>
<path d="M384,441 L389,441 L393,452 L393,460 L390,460.5 L387,454 L381,449 L383,443Z"/>
<path d="M374,420 L388,419 L390,417.5 L400,423 L397,433 L395,432 L395,423 L389,424 L375,426Z"/>
<path d="M596,627 L606,625 L607,636 L596,636Z"/>
<path d="M1263,384 L1261,385 L1257,389 L1250,393.5 L1240,402.5 L1228,404 L1221,410 L1213,422 L1204,427.5 L1200,434 L1199,444 L1195,450 L1190,453 L1184,460 L1181,467 L1181,473 L1173,481 L1170.6,493.7 L1178,504 L1182,532 L1178,550 L1180,557 L1170.6,570 L1163,576 L1169,579 L1173,586.5 L1174.5,599 L1177,610 L1183.5,617 L1196,624 L1201.6,633 L1219.6,651 L1222,661 L1230,671.6 L1243,678 L1253,686 L1263,692"/>
</g>
</g>
<rect x="104" y="122" width="1158" height="708" fill="none" stroke="#000" stroke-width="2"/>
<text x="683" y="100.4" font-size="35.5" text-anchor="middle" textLength="785" lengthAdjust="spacingAndGlyphs">Pangu-ECMWF – 10-Day Maximum Wind Speed</text>
<text x="89.6" y="258.6" font-size="30.4" text-anchor="end">40°N</text>
<text x="89.6" y="387.4" font-size="30.4" text-anchor="end">30°N</text>
<text x="89.6" y="516.1" font-size="30.4" text-anchor="end">20°N</text>
<text x="89.6" y="644.8" font-size="30.4" text-anchor="end">10°N</text>
<text x="89.6" y="773.5" font-size="30.4" text-anchor="end">0°</text>
<text x="362.1" y="865.8" font-size="30.4" text-anchor="middle">80°W</text>
<text x="619.5" y="865.8" font-size="30.4" text-anchor="middle">60°W</text>
<text x="876.8" y="865.8" font-size="30.4" text-anchor="middle">40°W</text>
<text x="1134.1" y="865.8" font-size="30.4" text-anchor="middle">20°W</text>
<text x="683.4" y="904.7" font-size="25.3" fill="#333" text-anchor="middle" textLength="567" lengthAdjust="spacingAndGlyphs">10-Day Max: 43 kt (Day 9) @ 48.2°N, 47.2°W</text>
<rect x="1289.5" y="63" width="45.5" height="868.5" fill="url(#cbgrad)"/>
<path d="M1289.5,63 L1312.3,19 L1335,63 Z" fill="#7a0403"/>
<path d="M1289.5,63 L1312.3,19 L1335,63 L1335,931.5 L1289.5,931.5 Z" fill="none" stroke="#000" stroke-width="2.2" stroke-linejoin="miter"/>
<line x1="1335" y1="931.0" x2="1345" y2="931.0" stroke="#000" stroke-width="2.2"/>
<text x="1356" y="942.9" font-size="30.4">20</text>
<line x1="1335" y1="710.0" x2="1345" y2="710.0" stroke="#000" stroke-width="2.2"/>
<text x="1356" y="721.9" font-size="30.4">40</text>
<line x1="1335" y1="532.6" x2="1345" y2="532.6" stroke="#000" stroke-width="2.2"/>
<text x="1356" y="544.5" font-size="30.4">60</text>
<line x1="1335" y1="368.7" x2="1345" y2="368.7" stroke="#000" stroke-width="2.2"/>
<text x="1356" y="380.6" font-size="30.4">80</text>
<line x1="1335" y1="213.0" x2="1345" y2="213.0" stroke="#000" stroke-width="2.2"/>
<text x="1356" y="224.9" font-size="30.4">100</text>
<line x1="1335" y1="63.0" x2="1345" y2="63.0" stroke="#000" stroke-width="2.2"/>
<text x="1356" y="74.9" font-size="30.4">120</text>
<text transform="translate(1440.3,497.9) rotate(-90)" font-size="30.4" text-anchor="middle" textLength="341" lengthAdjust="spacingAndGlyphs">10m Wind Speed (knots)</text>
</svg></body></html>
